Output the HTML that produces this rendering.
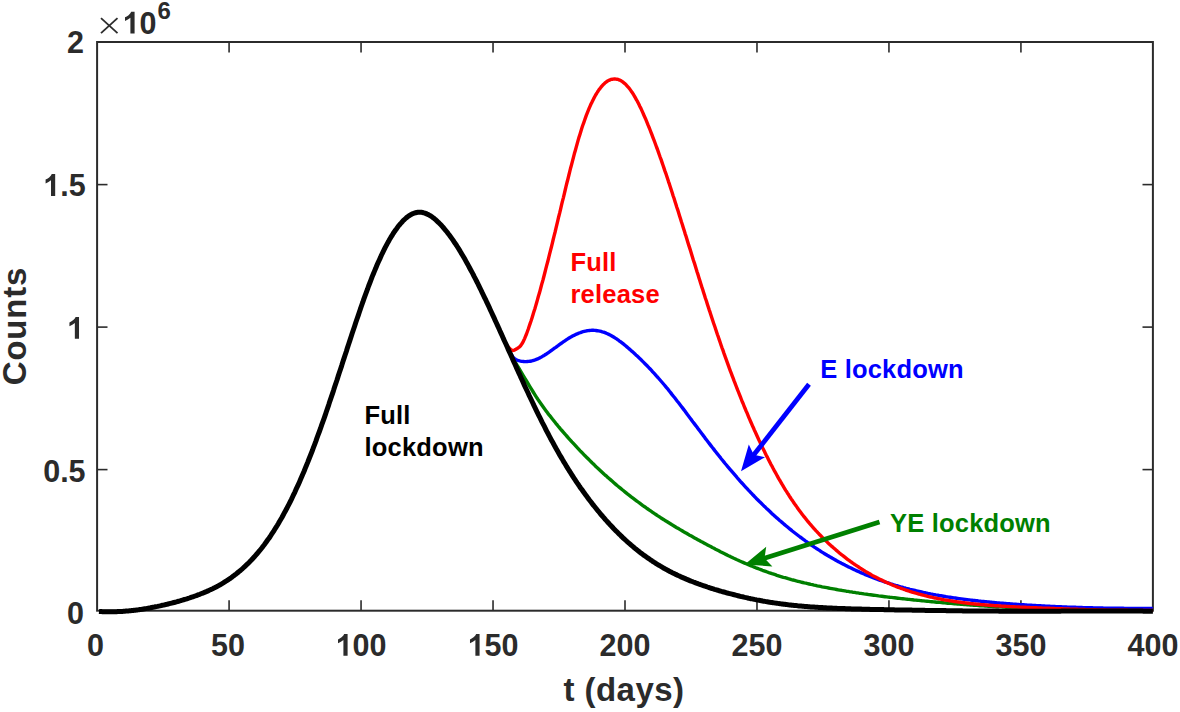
<!DOCTYPE html>
<html><head><meta charset="utf-8"><title>Counts vs t (days)</title>
<style>html,body{margin:0;padding:0;background:#fff;overflow:hidden}svg{display:block}text{font-family:"Liberation Sans",sans-serif;font-weight:bold}</style></head><body>
<svg width="1180" height="712" viewBox="0 0 1180 712">
<rect width="1180" height="712" fill="#fff"/>
<g stroke="#2b2b2b" fill="none">
<rect x="97.1" y="42.0" width="1055.80" height="568.70" stroke-width="2"/>
<line x1="229.08" y1="610.7" x2="229.08" y2="600.3000000000001" stroke-width="1.6"/>
<line x1="229.08" y1="42.0" x2="229.08" y2="52.4" stroke-width="1.6"/>
<line x1="361.05" y1="610.7" x2="361.05" y2="600.3000000000001" stroke-width="1.6"/>
<line x1="361.05" y1="42.0" x2="361.05" y2="52.4" stroke-width="1.6"/>
<line x1="493.03" y1="610.7" x2="493.03" y2="600.3000000000001" stroke-width="1.6"/>
<line x1="493.03" y1="42.0" x2="493.03" y2="52.4" stroke-width="1.6"/>
<line x1="625.00" y1="610.7" x2="625.00" y2="600.3000000000001" stroke-width="1.6"/>
<line x1="625.00" y1="42.0" x2="625.00" y2="52.4" stroke-width="1.6"/>
<line x1="756.98" y1="610.7" x2="756.98" y2="600.3000000000001" stroke-width="1.6"/>
<line x1="756.98" y1="42.0" x2="756.98" y2="52.4" stroke-width="1.6"/>
<line x1="888.95" y1="610.7" x2="888.95" y2="600.3000000000001" stroke-width="1.6"/>
<line x1="888.95" y1="42.0" x2="888.95" y2="52.4" stroke-width="1.6"/>
<line x1="1020.93" y1="610.7" x2="1020.93" y2="600.3000000000001" stroke-width="1.6"/>
<line x1="1020.93" y1="42.0" x2="1020.93" y2="52.4" stroke-width="1.6"/>
<line x1="97.1" y1="184.60" x2="107.5" y2="184.60" stroke-width="1.6"/>
<line x1="1152.9" y1="184.60" x2="1142.5" y2="184.60" stroke-width="1.6"/>
<line x1="97.1" y1="327.10" x2="107.5" y2="327.10" stroke-width="1.6"/>
<line x1="1152.9" y1="327.10" x2="1142.5" y2="327.10" stroke-width="1.6"/>
<line x1="97.1" y1="469.60" x2="107.5" y2="469.60" stroke-width="1.6"/>
<line x1="1152.9" y1="469.60" x2="1142.5" y2="469.60" stroke-width="1.6"/>
</g>
<g fill="none" stroke-linejoin="round" stroke-linecap="butt">
<path d="M509.0 350.0 L510.6 353.6 L512.2 356.9 L513.8 359.9 L515.5 362.7 L517.1 365.4 L518.7 368.0 L520.3 370.6 L521.9 373.3 L523.5 376.0 L525.1 378.7 L526.8 381.4 L528.4 384.1 L530.0 386.8 L531.6 389.4 L533.2 392.0 L534.8 394.6 L536.4 397.1 L538.0 399.5 L539.7 401.9 L541.3 404.2 L542.9 406.5 L544.5 408.7 L546.1 410.9 L547.7 413.1 L549.3 415.2 L551.0 417.2 L552.6 419.3 L554.2 421.3 L555.8 423.3 L557.4 425.2 L559.0 427.2 L560.6 429.1 L562.3 431.0 L563.9 432.8 L565.5 434.7 L567.1 436.5 L568.7 438.3 L570.3 440.1 L571.9 441.9 L573.6 443.7 L575.2 445.4 L576.8 447.2 L578.4 448.9 L580.0 450.6 L581.6 452.2 L583.2 453.9 L584.8 455.6 L586.5 457.2 L588.1 458.8 L589.7 460.4 L591.3 462.0 L592.9 463.6 L594.5 465.1 L596.1 466.7 L597.8 468.2 L599.4 469.7 L601.0 471.2 L602.6 472.7 L604.2 474.2 L605.8 475.6 L607.4 477.1 L609.1 478.5 L610.7 479.9 L612.3 481.3 L613.9 482.7 L615.5 484.1 L617.1 485.5 L618.7 486.8 L620.4 488.1 L622.0 489.5 L623.6 490.8 L625.2 492.1 L626.8 493.4 L628.4 494.7 L630.0 495.9 L631.6 497.2 L633.3 498.4 L634.9 499.6 L636.5 500.8 L638.1 502.0 L639.7 503.2 L641.3 504.4 L642.9 505.6 L644.6 506.7 L646.2 507.9 L647.8 509.0 L649.4 510.1 L651.0 511.2 L652.6 512.3 L654.2 513.4 L655.9 514.5 L657.5 515.6 L659.1 516.6 L660.7 517.7 L662.3 518.7 L663.9 519.7 L665.5 520.8 L667.2 521.8 L668.8 522.8 L670.4 523.8 L672.0 524.8 L673.6 525.7 L675.2 526.7 L676.8 527.7 L678.4 528.6 L680.1 529.6 L681.7 530.5 L683.3 531.5 L684.9 532.4 L686.5 533.3 L688.1 534.3 L689.7 535.2 L691.4 536.1 L693.0 537.0 L694.6 537.9 L696.2 538.8 L697.8 539.7 L699.4 540.6 L701.0 541.5 L702.7 542.3 L704.3 543.2 L705.9 544.1 L707.5 544.9 L709.1 545.8 L710.7 546.6 L712.3 547.5 L714.0 548.3 L715.6 549.2 L717.2 550.0 L718.8 550.8 L720.4 551.7 L722.0 552.5 L723.6 553.3 L725.2 554.1 L726.9 554.9 L728.5 555.7 L730.1 556.4 L731.7 557.2 L733.3 558.0 L734.9 558.7 L736.5 559.5 L738.2 560.2 L739.8 561.0 L741.4 561.7 L743.0 562.4 L744.6 563.1 L746.2 563.8 L747.8 564.5 L749.5 565.2 L751.1 565.8 L752.7 566.5 L754.3 567.1 L755.9 567.8 L757.5 568.4 L759.1 569.0 L760.8 569.6 L762.4 570.3 L764.0 570.8 L765.6 571.4 L767.2 572.0 L768.8 572.6 L770.4 573.1 L772.0 573.7 L773.7 574.2 L775.3 574.7 L776.9 575.3 L778.5 575.8 L780.1 576.3 L781.7 576.8 L783.3 577.3 L785.0 577.7 L786.6 578.2 L788.2 578.7 L789.8 579.1 L791.4 579.6 L793.0 580.0 L794.6 580.4 L796.3 580.9 L797.9 581.3 L799.5 581.7 L801.1 582.1 L802.7 582.5 L804.3 582.9 L805.9 583.2 L807.6 583.6 L809.2 584.0 L810.8 584.4 L812.4 584.7 L814.0 585.1 L815.6 585.4 L817.2 585.8 L818.8 586.1 L820.5 586.4 L822.1 586.8 L823.7 587.1 L825.3 587.4 L826.9 587.7 L828.5 588.0 L830.1 588.3 L831.8 588.6 L833.4 588.9 L835.0 589.2 L836.6 589.5 L838.2 589.8 L839.8 590.1 L841.4 590.3 L843.1 590.6 L844.7 590.9 L846.3 591.2 L847.9 591.4 L849.5 591.7 L851.1 591.9 L852.7 592.2 L854.3 592.4 L856.0 592.7 L857.6 592.9 L859.2 593.2 L860.8 593.4 L862.4 593.6 L864.0 593.9 L865.6 594.1 L867.3 594.3 L868.9 594.6 L870.5 594.8 L872.1 595.0 L873.7 595.2 L875.3 595.4 L876.9 595.6 L878.6 595.9 L880.2 596.1 L881.8 596.3 L883.4 596.5 L885.0 596.7 L886.6 596.9 L888.2 597.1 L889.9 597.3 L891.5 597.4 L893.1 597.6 L894.7 597.8 L896.3 598.0 L897.9 598.2 L899.5 598.4 L901.1 598.6 L902.8 598.7 L904.4 598.9 L906.0 599.1 L907.6 599.3 L909.2 599.4 L910.8 599.6 L912.4 599.8 L914.1 600.0 L915.7 600.1 L917.3 600.3 L918.9 600.4 L920.5 600.6 L922.1 600.8 L923.7 600.9 L925.4 601.1 L927.0 601.2 L928.6 601.4 L930.2 601.6 L931.8 601.7 L933.4 601.9 L935.0 602.0 L936.7 602.2 L938.3 602.3 L939.9 602.4 L941.5 602.6 L943.1 602.7 L944.7 602.9 L946.3 603.0 L947.9 603.2 L949.6 603.3 L951.2 603.4 L952.8 603.6 L954.4 603.7 L956.0 603.8 L957.6 604.0 L959.2 604.1 L960.9 604.2 L962.5 604.3 L964.1 604.5 L965.7 604.6 L967.3 604.7 L968.9 604.8 L970.5 605.0 L972.2 605.1 L973.8 605.2 L975.4 605.3 L977.0 605.4 L978.6 605.5 L980.2 605.7 L981.8 605.8 L983.5 605.9 L985.1 606.0 L986.7 606.1 L988.3 606.2 L989.9 606.3 L991.5 606.4 L993.1 606.5 L994.7 606.6 L996.4 606.7 L998.0 606.8 L999.6 606.9 L1001.2 606.9 L1002.8 607.0 L1004.4 607.1 L1006.0 607.2 L1007.7 607.3 L1009.3 607.4 L1010.9 607.4 L1012.5 607.5 L1014.1 607.6 L1015.7 607.7 L1017.3 607.7 L1019.0 607.8 L1020.6 607.9 L1022.2 608.0 L1023.8 608.0 L1025.4 608.1 L1027.0 608.1 L1028.6 608.2 L1030.3 608.3 L1031.9 608.3 L1033.5 608.4 L1035.1 608.4 L1036.7 608.5 L1038.3 608.5 L1039.9 608.6 L1041.5 608.6 L1043.2 608.7 L1044.8 608.7 L1046.4 608.8 L1048.0 608.8 L1049.6 608.9 L1051.2 608.9 L1052.8 609.0 L1054.5 609.0 L1056.1 609.0 L1057.7 609.1 L1059.3 609.1 L1060.9 609.1 L1062.5 609.2 L1064.1 609.2 L1065.8 609.2 L1067.4 609.3 L1069.0 609.3 L1070.6 609.3 L1072.2 609.4 L1073.8 609.4 L1075.4 609.4 L1077.1 609.4 L1078.7 609.5 L1080.3 609.5 L1081.9 609.5 L1083.5 609.5 L1085.1 609.6 L1086.7 609.6 L1088.3 609.6 L1090.0 609.6 L1091.6 609.6 L1093.2 609.7 L1094.8 609.7 L1096.4 609.7 L1098.0 609.7 L1099.6 609.7 L1101.3 609.8 L1102.9 609.8 L1104.5 609.8 L1106.1 609.8 L1107.7 609.8 L1109.3 609.9 L1110.9 609.9 L1112.6 609.9 L1114.2 609.9 L1115.8 609.9 L1117.4 609.9 L1119.0 610.0 L1120.6 610.0 L1122.2 610.0 L1123.9 610.0 L1125.5 610.0 L1127.1 610.1 L1128.7 610.1 L1130.3 610.1 L1131.9 610.1 L1133.5 610.1 L1135.1 610.2 L1136.8 610.2 L1138.4 610.2 L1140.0 610.2 L1141.6 610.2 L1143.2 610.3 L1144.8 610.3 L1146.4 610.3 L1148.1 610.3 L1149.7 610.4 L1151.3 610.4 L1152.9 610.4" stroke="#008000" stroke-width="3.4"/>
<path d="M508.0 346.8 L509.3 350.2 L510.6 353.2 L511.9 355.6 L513.2 357.4 L514.5 358.6 L515.8 359.5 L517.0 360.1 L518.3 360.5 L519.6 360.9 L520.9 361.2 L522.2 361.4 L523.5 361.5 L524.8 361.6 L526.1 361.6 L527.4 361.5 L528.7 361.4 L530.0 361.3 L531.3 361.0 L532.6 360.7 L533.8 360.3 L535.1 359.9 L536.4 359.4 L537.7 358.9 L539.0 358.2 L540.3 357.6 L541.6 356.9 L542.9 356.1 L544.2 355.4 L545.5 354.5 L546.8 353.7 L548.1 352.8 L549.4 351.9 L550.6 351.0 L551.9 350.1 L553.2 349.2 L554.5 348.2 L555.8 347.3 L557.1 346.3 L558.4 345.4 L559.7 344.4 L561.0 343.5 L562.3 342.6 L563.6 341.7 L564.9 340.8 L566.2 339.9 L567.4 339.1 L568.7 338.3 L570.0 337.5 L571.3 336.8 L572.6 336.0 L573.9 335.4 L575.2 334.7 L576.5 334.1 L577.8 333.6 L579.1 333.0 L580.4 332.6 L581.7 332.1 L583.0 331.7 L584.3 331.4 L585.5 331.1 L586.8 330.8 L588.1 330.6 L589.4 330.5 L590.7 330.4 L592.0 330.3 L593.3 330.3 L594.6 330.4 L595.9 330.5 L597.2 330.7 L598.5 330.9 L599.8 331.1 L601.1 331.4 L602.3 331.8 L603.6 332.2 L604.9 332.7 L606.2 333.2 L607.5 333.8 L608.8 334.4 L610.1 335.0 L611.4 335.7 L612.7 336.5 L614.0 337.3 L615.3 338.1 L616.6 338.9 L617.9 339.8 L619.1 340.8 L620.4 341.7 L621.7 342.7 L623.0 343.7 L624.3 344.7 L625.6 345.8 L626.9 346.9 L628.2 348.0 L629.5 349.1 L630.8 350.2 L632.1 351.4 L633.4 352.5 L634.7 353.7 L635.9 354.9 L637.2 356.1 L638.5 357.3 L639.8 358.6 L641.1 359.8 L642.4 361.1 L643.7 362.4 L645.0 363.7 L646.3 365.0 L647.6 366.3 L648.9 367.7 L650.2 369.0 L651.5 370.4 L652.7 371.8 L654.0 373.2 L655.3 374.6 L656.6 376.1 L657.9 377.5 L659.2 379.0 L660.5 380.5 L661.8 382.0 L663.1 383.5 L664.4 385.0 L665.7 386.6 L667.0 388.2 L668.3 389.7 L669.5 391.3 L670.8 392.9 L672.1 394.6 L673.4 396.2 L674.7 397.8 L676.0 399.5 L677.3 401.2 L678.6 402.8 L679.9 404.5 L681.2 406.2 L682.5 407.9 L683.8 409.6 L685.1 411.3 L686.3 413.0 L687.6 414.8 L688.9 416.5 L690.2 418.2 L691.5 419.9 L692.8 421.7 L694.1 423.4 L695.4 425.1 L696.7 426.8 L698.0 428.6 L699.3 430.3 L700.6 432.0 L701.9 433.7 L703.2 435.4 L704.4 437.1 L705.7 438.9 L707.0 440.5 L708.3 442.2 L709.6 443.9 L710.9 445.6 L712.2 447.3 L713.5 448.9 L714.8 450.6 L716.1 452.2 L717.4 453.9 L718.7 455.5 L720.0 457.1 L721.2 458.7 L722.5 460.3 L723.8 461.9 L725.1 463.5 L726.4 465.0 L727.7 466.6 L729.0 468.1 L730.3 469.7 L731.6 471.2 L732.9 472.7 L734.2 474.2 L735.5 475.7 L736.8 477.2 L738.0 478.7 L739.3 480.1 L740.6 481.6 L741.9 483.0 L743.2 484.4 L744.5 485.9 L745.8 487.3 L747.1 488.7 L748.4 490.1 L749.7 491.4 L751.0 492.8 L752.3 494.2 L753.6 495.5 L754.8 496.8 L756.1 498.2 L757.4 499.5 L758.7 500.8 L760.0 502.1 L761.3 503.3 L762.6 504.6 L763.9 505.9 L765.2 507.1 L766.5 508.4 L767.8 509.6 L769.1 510.8 L770.4 512.0 L771.6 513.2 L772.9 514.4 L774.2 515.6 L775.5 516.7 L776.8 517.9 L778.1 519.0 L779.4 520.2 L780.7 521.3 L782.0 522.4 L783.3 523.5 L784.6 524.6 L785.9 525.7 L787.2 526.8 L788.4 527.8 L789.7 528.9 L791.0 529.9 L792.3 531.0 L793.6 532.0 L794.9 533.0 L796.2 534.0 L797.5 535.0 L798.8 536.0 L800.1 537.0 L801.4 537.9 L802.7 538.9 L804.0 539.8 L805.2 540.8 L806.5 541.7 L807.8 542.6 L809.1 543.5 L810.4 544.4 L811.7 545.3 L813.0 546.2 L814.3 547.1 L815.6 547.9 L816.9 548.8 L818.2 549.6 L819.5 550.4 L820.8 551.3 L822.0 552.1 L823.3 552.9 L824.6 553.7 L825.9 554.5 L827.2 555.3 L828.5 556.0 L829.8 556.8 L831.1 557.5 L832.4 558.3 L833.7 559.0 L835.0 559.7 L836.3 560.5 L837.6 561.2 L838.9 561.9 L840.1 562.6 L841.4 563.3 L842.7 563.9 L844.0 564.6 L845.3 565.3 L846.6 565.9 L847.9 566.6 L849.2 567.2 L850.5 567.8 L851.8 568.4 L853.1 569.1 L854.4 569.7 L855.7 570.3 L856.9 570.9 L858.2 571.4 L859.5 572.0 L860.8 572.6 L862.1 573.2 L863.4 573.7 L864.7 574.3 L866.0 574.8 L867.3 575.3 L868.6 575.9 L869.9 576.4 L871.2 576.9 L872.5 577.4 L873.7 577.9 L875.0 578.4 L876.3 578.9 L877.6 579.3 L878.9 579.8 L880.2 580.3 L881.5 580.7 L882.8 581.2 L884.1 581.6 L885.4 582.1 L886.7 582.5 L888.0 582.9 L889.3 583.3 L890.5 583.8 L891.8 584.2 L893.1 584.6 L894.4 585.0 L895.7 585.4 L897.0 585.7 L898.3 586.1 L899.6 586.5 L900.9 586.9 L902.2 587.2 L903.5 587.6 L904.8 587.9 L906.1 588.3 L907.3 588.6 L908.6 588.9 L909.9 589.3 L911.2 589.6 L912.5 589.9 L913.8 590.2 L915.1 590.5 L916.4 590.8 L917.7 591.1 L919.0 591.4 L920.3 591.7 L921.6 592.0 L922.9 592.3 L924.1 592.6 L925.4 592.8 L926.7 593.1 L928.0 593.4 L929.3 593.6 L930.6 593.9 L931.9 594.1 L933.2 594.4 L934.5 594.6 L935.8 594.9 L937.1 595.1 L938.4 595.3 L939.7 595.6 L940.9 595.8 L942.2 596.0 L943.5 596.2 L944.8 596.4 L946.1 596.7 L947.4 596.9 L948.7 597.1 L950.0 597.3 L951.3 597.5 L952.6 597.7 L953.9 597.9 L955.2 598.0 L956.5 598.2 L957.7 598.4 L959.0 598.6 L960.3 598.8 L961.6 598.9 L962.9 599.1 L964.2 599.3 L965.5 599.4 L966.8 599.6 L968.1 599.8 L969.4 599.9 L970.7 600.1 L972.0 600.2 L973.3 600.4 L974.6 600.5 L975.8 600.7 L977.1 600.8 L978.4 601.0 L979.7 601.1 L981.0 601.3 L982.3 601.4 L983.6 601.5 L984.9 601.7 L986.2 601.8 L987.5 601.9 L988.8 602.0 L990.1 602.2 L991.4 602.3 L992.6 602.4 L993.9 602.5 L995.2 602.6 L996.5 602.8 L997.8 602.9 L999.1 603.0 L1000.4 603.1 L1001.7 603.2 L1003.0 603.3 L1004.3 603.4 L1005.6 603.5 L1006.9 603.6 L1008.2 603.7 L1009.4 603.8 L1010.7 603.9 L1012.0 604.0 L1013.3 604.1 L1014.6 604.2 L1015.9 604.3 L1017.2 604.4 L1018.5 604.5 L1019.8 604.6 L1021.1 604.7 L1022.4 604.7 L1023.7 604.8 L1025.0 604.9 L1026.2 605.0 L1027.5 605.1 L1028.8 605.2 L1030.1 605.2 L1031.4 605.3 L1032.7 605.4 L1034.0 605.5 L1035.3 605.5 L1036.6 605.6 L1037.9 605.7 L1039.2 605.8 L1040.5 605.8 L1041.8 605.9 L1043.0 606.0 L1044.3 606.0 L1045.6 606.1 L1046.9 606.2 L1048.2 606.2 L1049.5 606.3 L1050.8 606.4 L1052.1 606.4 L1053.4 606.5 L1054.7 606.5 L1056.0 606.6 L1057.3 606.6 L1058.6 606.7 L1059.8 606.8 L1061.1 606.8 L1062.4 606.9 L1063.7 606.9 L1065.0 607.0 L1066.3 607.0 L1067.6 607.1 L1068.9 607.1 L1070.2 607.2 L1071.5 607.2 L1072.8 607.3 L1074.1 607.3 L1075.4 607.3 L1076.6 607.4 L1077.9 607.4 L1079.2 607.5 L1080.5 607.5 L1081.8 607.5 L1083.1 607.6 L1084.4 607.6 L1085.7 607.7 L1087.0 607.7 L1088.3 607.7 L1089.6 607.8 L1090.9 607.8 L1092.2 607.8 L1093.5 607.9 L1094.7 607.9 L1096.0 607.9 L1097.3 607.9 L1098.6 608.0 L1099.9 608.0 L1101.2 608.0 L1102.5 608.0 L1103.8 608.1 L1105.1 608.1 L1106.4 608.1 L1107.7 608.1 L1109.0 608.2 L1110.3 608.2 L1111.5 608.2 L1112.8 608.2 L1114.1 608.2 L1115.4 608.3 L1116.7 608.3 L1118.0 608.3 L1119.3 608.3 L1120.6 608.3 L1121.9 608.3 L1123.2 608.3 L1124.5 608.4 L1125.8 608.4 L1127.1 608.4 L1128.3 608.4 L1129.6 608.4 L1130.9 608.4 L1132.2 608.4 L1133.5 608.4 L1134.8 608.4 L1136.1 608.4 L1137.4 608.4 L1138.7 608.4 L1140.0 608.4 L1141.3 608.4 L1142.6 608.4 L1143.9 608.4 L1145.1 608.4 L1146.4 608.4 L1147.7 608.4 L1149.0 608.4 L1150.3 608.4 L1151.6 608.4 L1152.9 608.4" stroke="#0000ff" stroke-width="3.4"/>
<path d="M508.0 346.8 L508.9 347.7 L509.8 348.7 L510.8 349.5 L511.7 350.2 L512.6 350.5 L513.5 350.4 L514.5 350.1 L515.4 349.6 L516.3 349.0 L517.2 348.5 L518.1 347.9 L519.1 347.2 L520.0 346.4 L520.9 345.3 L521.8 344.0 L522.8 342.4 L523.7 340.6 L524.6 338.6 L525.5 336.4 L526.5 334.0 L527.4 331.5 L528.3 329.0 L529.2 326.3 L530.1 323.6 L531.1 320.8 L532.0 318.0 L532.9 315.1 L533.8 312.1 L534.8 309.0 L535.7 305.9 L536.6 302.8 L537.5 299.6 L538.4 296.3 L539.4 293.1 L540.3 289.7 L541.2 286.3 L542.1 282.9 L543.1 279.5 L544.0 276.0 L544.9 272.5 L545.8 268.9 L546.7 265.4 L547.7 261.7 L548.6 258.1 L549.5 254.4 L550.4 250.8 L551.4 247.0 L552.3 243.3 L553.2 239.5 L554.1 235.8 L555.1 232.0 L556.0 228.2 L556.9 224.4 L557.8 220.6 L558.7 216.7 L559.7 212.9 L560.6 209.1 L561.5 205.2 L562.4 201.4 L563.4 197.6 L564.3 193.8 L565.2 190.0 L566.1 186.2 L567.0 182.5 L568.0 178.7 L568.9 175.0 L569.8 171.3 L570.7 167.7 L571.7 164.1 L572.6 160.6 L573.5 157.1 L574.4 153.6 L575.4 150.2 L576.3 146.9 L577.2 143.6 L578.1 140.4 L579.0 137.3 L580.0 134.2 L580.9 131.2 L581.8 128.3 L582.7 125.5 L583.7 122.8 L584.6 120.2 L585.5 117.6 L586.4 115.1 L587.3 112.8 L588.3 110.4 L589.2 108.2 L590.1 106.1 L591.0 104.0 L592.0 102.1 L592.9 100.2 L593.8 98.4 L594.7 96.7 L595.6 95.0 L596.6 93.5 L597.5 92.0 L598.4 90.6 L599.3 89.3 L600.3 88.1 L601.2 86.9 L602.1 85.8 L603.0 84.8 L604.0 83.9 L604.9 83.1 L605.8 82.3 L606.7 81.6 L607.6 81.0 L608.6 80.5 L609.5 80.1 L610.4 79.7 L611.3 79.4 L612.3 79.2 L613.2 79.1 L614.1 79.0 L615.0 79.0 L615.9 79.1 L616.9 79.2 L617.8 79.4 L618.7 79.7 L619.6 80.1 L620.6 80.6 L621.5 81.1 L622.4 81.7 L623.3 82.4 L624.2 83.1 L625.2 83.9 L626.1 84.8 L627.0 85.8 L627.9 86.8 L628.9 87.9 L629.8 89.1 L630.7 90.4 L631.6 91.7 L632.6 93.1 L633.5 94.5 L634.4 96.1 L635.3 97.7 L636.2 99.3 L637.2 101.0 L638.1 102.8 L639.0 104.6 L639.9 106.5 L640.9 108.4 L641.8 110.4 L642.7 112.4 L643.6 114.5 L644.5 116.6 L645.5 118.7 L646.4 120.9 L647.3 123.1 L648.2 125.4 L649.2 127.7 L650.1 130.0 L651.0 132.3 L651.9 134.7 L652.8 137.1 L653.8 139.6 L654.7 142.0 L655.6 144.5 L656.5 147.0 L657.5 149.5 L658.4 152.1 L659.3 154.7 L660.2 157.3 L661.2 159.9 L662.1 162.6 L663.0 165.2 L663.9 167.9 L664.8 170.6 L665.8 173.3 L666.7 176.1 L667.6 178.8 L668.5 181.6 L669.5 184.4 L670.4 187.2 L671.3 190.0 L672.2 192.8 L673.1 195.7 L674.1 198.5 L675.0 201.4 L675.9 204.3 L676.8 207.2 L677.8 210.1 L678.7 213.0 L679.6 215.9 L680.5 218.8 L681.4 221.8 L682.4 224.7 L683.3 227.7 L684.2 230.6 L685.1 233.6 L686.1 236.5 L687.0 239.5 L687.9 242.4 L688.8 245.4 L689.8 248.4 L690.7 251.3 L691.6 254.3 L692.5 257.2 L693.4 260.2 L694.4 263.1 L695.3 266.1 L696.2 269.0 L697.1 272.0 L698.1 274.9 L699.0 277.9 L699.9 280.8 L700.8 283.7 L701.7 286.6 L702.7 289.5 L703.6 292.4 L704.5 295.3 L705.4 298.2 L706.4 301.0 L707.3 303.9 L708.2 306.7 L709.1 309.6 L710.1 312.4 L711.0 315.2 L711.9 318.0 L712.8 320.8 L713.7 323.5 L714.7 326.3 L715.6 329.0 L716.5 331.8 L717.4 334.5 L718.4 337.2 L719.3 339.9 L720.2 342.5 L721.1 345.2 L722.0 347.8 L723.0 350.4 L723.9 353.1 L724.8 355.6 L725.7 358.2 L726.7 360.8 L727.6 363.3 L728.5 365.8 L729.4 368.4 L730.3 370.8 L731.3 373.3 L732.2 375.8 L733.1 378.2 L734.0 380.7 L735.0 383.1 L735.9 385.5 L736.8 387.8 L737.7 390.2 L738.7 392.6 L739.6 394.9 L740.5 397.2 L741.4 399.5 L742.3 401.8 L743.3 404.0 L744.2 406.3 L745.1 408.5 L746.0 410.7 L747.0 412.9 L747.9 415.1 L748.8 417.3 L749.7 419.4 L750.6 421.5 L751.6 423.7 L752.5 425.8 L753.4 427.8 L754.3 429.9 L755.3 432.0 L756.2 434.0 L757.1 436.0 L758.0 438.0 L758.9 440.0 L759.9 442.0 L760.8 443.9 L761.7 445.8 L762.6 447.8 L763.6 449.7 L764.5 451.6 L765.4 453.4 L766.3 455.3 L767.3 457.1 L768.2 458.9 L769.1 460.7 L770.0 462.5 L770.9 464.3 L771.9 466.0 L772.8 467.8 L773.7 469.5 L774.6 471.2 L775.6 472.9 L776.5 474.5 L777.4 476.2 L778.3 477.8 L779.2 479.4 L780.2 481.0 L781.1 482.6 L782.0 484.2 L782.9 485.7 L783.9 487.3 L784.8 488.8 L785.7 490.3 L786.6 491.7 L787.5 493.2 L788.5 494.6 L789.4 496.1 L790.3 497.5 L791.2 498.9 L792.2 500.3 L793.1 501.6 L794.0 503.0 L794.9 504.3 L795.9 505.6 L796.8 506.9 L797.7 508.2 L798.6 509.5 L799.5 510.7 L800.5 512.0 L801.4 513.2 L802.3 514.4 L803.2 515.6 L804.2 516.8 L805.1 517.9 L806.0 519.1 L806.9 520.2 L807.8 521.4 L808.8 522.5 L809.7 523.6 L810.6 524.6 L811.5 525.7 L812.5 526.8 L813.4 527.8 L814.3 528.9 L815.2 529.9 L816.1 530.9 L817.1 531.9 L818.0 532.9 L818.9 533.8 L819.8 534.8 L820.8 535.8 L821.7 536.7 L822.6 537.6 L823.5 538.6 L824.5 539.5 L825.4 540.4 L826.3 541.3 L827.2 542.1 L828.1 543.0 L829.1 543.9 L830.0 544.7 L830.9 545.6 L831.8 546.4 L832.8 547.2 L833.7 548.0 L834.6 548.8 L835.5 549.6 L836.4 550.4 L837.4 551.2 L838.3 552.0 L839.2 552.8 L840.1 553.5 L841.1 554.3 L842.0 555.0 L842.9 555.7 L843.8 556.4 L844.8 557.2 L845.7 557.9 L846.6 558.6 L847.5 559.3 L848.4 560.0 L849.4 560.6 L850.3 561.3 L851.2 562.0 L852.1 562.6 L853.1 563.3 L854.0 563.9 L854.9 564.6 L855.8 565.2 L856.7 565.8 L857.7 566.4 L858.6 567.0 L859.5 567.6 L860.4 568.2 L861.4 568.8 L862.3 569.4 L863.2 570.0 L864.1 570.5 L865.0 571.1 L866.0 571.7 L866.9 572.2 L867.8 572.7 L868.7 573.3 L869.7 573.8 L870.6 574.3 L871.5 574.9 L872.4 575.4 L873.4 575.9 L874.3 576.4 L875.2 576.9 L876.1 577.3 L877.0 577.8 L878.0 578.3 L878.9 578.8 L879.8 579.2 L880.7 579.7 L881.7 580.1 L882.6 580.6 L883.5 581.0 L884.4 581.4 L885.3 581.9 L886.3 582.3 L887.2 582.7 L888.1 583.1 L889.0 583.5 L890.0 583.9 L890.9 584.3 L891.8 584.7 L892.7 585.1 L893.6 585.5 L894.6 585.9 L895.5 586.2 L896.4 586.6 L897.3 587.0 L898.3 587.3 L899.2 587.7 L900.1 588.0 L901.0 588.3 L902.0 588.7 L902.9 589.0 L903.8 589.3 L904.7 589.7 L905.6 590.0 L906.6 590.3 L907.5 590.6 L908.4 590.9 L909.3 591.2 L910.3 591.5 L911.2 591.8 L912.1 592.1 L913.0 592.4 L913.9 592.6 L914.9 592.9 L915.8 593.2 L916.7 593.4 L917.6 593.7 L918.6 594.0 L919.5 594.2 L920.4 594.5 L921.3 594.7 L922.2 595.0 L923.2 595.2 L924.1 595.4 L925.0 595.7 L925.9 595.9 L926.9 596.1 L927.8 596.4 L928.7 596.6 L929.6 596.8 L930.6 597.0 L931.5 597.2 L932.4 597.4 L933.3 597.6 L934.2 597.8 L935.2 598.0 L936.1 598.2 L937.0 598.4 L937.9 598.6 L938.9 598.8 L939.8 598.9 L940.7 599.1 L941.6 599.3 L942.5 599.5 L943.5 599.6 L944.4 599.8 L945.3 600.0 L946.2 600.1 L947.2 600.3 L948.1 600.4 L949.0 600.6 L949.9 600.7 L950.8 600.9 L951.8 601.0 L952.7 601.2 L953.6 601.3 L954.5 601.5 L955.5 601.6 L956.4 601.7 L957.3 601.9 L958.2 602.0 L959.2 602.1 L960.1 602.2 L961.0 602.4 L961.9 602.5 L962.8 602.6 L963.8 602.7 L964.7 602.8 L965.6 602.9 L966.5 603.0 L967.5 603.2 L968.4 603.3 L969.3 603.4 L970.2 603.5 L971.1 603.6 L972.1 603.7 L973.0 603.8 L973.9 603.9 L974.8 604.0 L975.8 604.0 L976.7 604.1 L977.6 604.2 L978.5 604.3 L979.5 604.4 L980.4 604.5 L981.3 604.6 L982.2 604.7 L983.1 604.7 L984.1 604.8 L985.0 604.9 L985.9 605.0 L986.8 605.0 L987.8 605.1 L988.7 605.2 L989.6 605.3 L990.5 605.3 L991.4 605.4 L992.4 605.5 L993.3 605.5 L994.2 605.6 L995.1 605.7 L996.1 605.7 L997.0 605.8 L997.9 605.8 L998.8 605.9 L999.7 606.0 L1000.7 606.0 L1001.6 606.1 L1002.5 606.1 L1003.4 606.2 L1004.4 606.2 L1005.3 606.3 L1006.2 606.4 L1007.1 606.4 L1008.1 606.5 L1009.0 606.5 L1009.9 606.6 L1010.8 606.6 L1011.7 606.7 L1012.7 606.7 L1013.6 606.8 L1014.5 606.8 L1015.4 606.9 L1016.4 606.9 L1017.3 606.9 L1018.2 607.0 L1019.1 607.0 L1020.0 607.1 L1021.0 607.1 L1021.9 607.2 L1022.8 607.2 L1023.7 607.3 L1024.7 607.3 L1025.6 607.3 L1026.5 607.4 L1027.4 607.4 L1028.3 607.5 L1029.3 607.5 L1030.2 607.6 L1031.1 607.6 L1032.0 607.6 L1033.0 607.7 L1033.9 607.7 L1034.8 607.7 L1035.7 607.8 L1036.7 607.8 L1037.6 607.9 L1038.5 607.9 L1039.4 607.9 L1040.3 608.0 L1041.3 608.0 L1042.2 608.1 L1043.1 608.1 L1044.0 608.1 L1045.0 608.2 L1045.9 608.2 L1046.8 608.2 L1047.7 608.3 L1048.6 608.3 L1049.6 608.3 L1050.5 608.4 L1051.4 608.4 L1052.3 608.4 L1053.3 608.5 L1054.2 608.5 L1055.1 608.6 L1056.0 608.6 L1056.9 608.6 L1057.9 608.7 L1058.8 608.7 L1059.7 608.7 L1060.6 608.8 L1061.6 608.8 L1062.5 608.8 L1063.4 608.9 L1064.3 608.9 L1065.3 608.9 L1066.2 609.0 L1067.1 609.0 L1068.0 609.0 L1068.9 609.0 L1069.9 609.1 L1070.8 609.1 L1071.7 609.1 L1072.6 609.2 L1073.6 609.2 L1074.5 609.2 L1075.4 609.3 L1076.3 609.3 L1077.2 609.3 L1078.2 609.4 L1079.1 609.4 L1080.0 609.4 L1080.9 609.4 L1081.9 609.5 L1082.8 609.5 L1083.7 609.5 L1084.6 609.5 L1085.5 609.6 L1086.5 609.6 L1087.4 609.6 L1088.3 609.7 L1089.2 609.7 L1090.2 609.7 L1091.1 609.7 L1092.0 609.7 L1092.9 609.8 L1093.9 609.8 L1094.8 609.8 L1095.7 609.8 L1096.6 609.9 L1097.5 609.9 L1098.5 609.9 L1099.4 609.9 L1100.3 609.9 L1101.2 610.0 L1102.2 610.0 L1103.1 610.0 L1104.0 610.0 L1104.9 610.0 L1105.8 610.1 L1106.8 610.1 L1107.7 610.1 L1108.6 610.1 L1109.5 610.1 L1110.5 610.1 L1111.4 610.2 L1112.3 610.2 L1113.2 610.2 L1114.2 610.2 L1115.1 610.2 L1116.0 610.2 L1116.9 610.2 L1117.8 610.2 L1118.8 610.3 L1119.7 610.3 L1120.6 610.3 L1121.5 610.3 L1122.5 610.3 L1123.4 610.3 L1124.3 610.3 L1125.2 610.3 L1126.1 610.3 L1127.1 610.3 L1128.0 610.4 L1128.9 610.4 L1129.8 610.4 L1130.8 610.4 L1131.7 610.4 L1132.6 610.4 L1133.5 610.4 L1134.4 610.4 L1135.4 610.4 L1136.3 610.4 L1137.2 610.4 L1138.1 610.4 L1139.1 610.4 L1140.0 610.4 L1140.9 610.4 L1141.8 610.4 L1142.8 610.4 L1143.7 610.4 L1144.6 610.4 L1145.5 610.4 L1146.4 610.4 L1147.4 610.4 L1148.3 610.4 L1149.2 610.4 L1150.1 610.4 L1151.1 610.4 L1152.0 610.4 L1152.9 610.4" stroke="#ff0000" stroke-width="3.4"/>
<path d="M99.0 611.5 L100.2 611.6 L101.3 611.6 L102.5 611.7 L103.7 611.7 L104.9 611.7 L106.0 611.8 L107.2 611.8 L108.4 611.8 L109.6 611.8 L110.7 611.8 L111.9 611.8 L113.1 611.7 L114.2 611.7 L115.4 611.7 L116.6 611.7 L117.8 611.6 L118.9 611.6 L120.1 611.5 L121.3 611.5 L122.4 611.4 L123.6 611.3 L124.8 611.2 L126.0 611.1 L127.1 611.1 L128.3 610.9 L129.5 610.8 L130.7 610.7 L131.8 610.6 L133.0 610.5 L134.2 610.3 L135.3 610.2 L136.5 610.0 L137.7 609.9 L138.9 609.7 L140.0 609.5 L141.2 609.4 L142.4 609.2 L143.5 609.0 L144.7 608.8 L145.9 608.6 L147.1 608.4 L148.2 608.2 L149.4 608.0 L150.6 607.8 L151.8 607.5 L152.9 607.3 L154.1 607.1 L155.3 606.8 L156.4 606.6 L157.6 606.4 L158.8 606.1 L160.0 605.9 L161.1 605.6 L162.3 605.3 L163.5 605.1 L164.6 604.8 L165.8 604.5 L167.0 604.3 L168.2 604.0 L169.3 603.7 L170.5 603.4 L171.7 603.1 L172.9 602.8 L174.0 602.5 L175.2 602.2 L176.4 601.9 L177.5 601.5 L178.7 601.2 L179.9 600.9 L181.1 600.5 L182.2 600.2 L183.4 599.8 L184.6 599.5 L185.8 599.1 L186.9 598.8 L188.1 598.4 L189.3 598.0 L190.4 597.6 L191.6 597.2 L192.8 596.8 L194.0 596.4 L195.1 596.0 L196.3 595.6 L197.5 595.1 L198.6 594.7 L199.8 594.3 L201.0 593.8 L202.2 593.3 L203.3 592.9 L204.5 592.4 L205.7 591.9 L206.9 591.4 L208.0 590.9 L209.2 590.3 L210.4 589.8 L211.5 589.2 L212.7 588.7 L213.9 588.1 L215.1 587.5 L216.2 586.9 L217.4 586.3 L218.6 585.6 L219.7 585.0 L220.9 584.3 L222.1 583.6 L223.3 582.9 L224.4 582.2 L225.6 581.4 L226.8 580.7 L228.0 579.9 L229.1 579.1 L230.3 578.3 L231.5 577.5 L232.6 576.6 L233.8 575.7 L235.0 574.8 L236.2 573.9 L237.3 573.0 L238.5 572.0 L239.7 571.1 L240.8 570.1 L242.0 569.1 L243.2 568.0 L244.4 566.9 L245.5 565.8 L246.7 564.7 L247.9 563.6 L249.1 562.4 L250.2 561.2 L251.4 560.0 L252.6 558.7 L253.7 557.5 L254.9 556.2 L256.1 554.8 L257.3 553.5 L258.4 552.1 L259.6 550.7 L260.8 549.2 L262.0 547.7 L263.1 546.2 L264.3 544.7 L265.5 543.1 L266.6 541.5 L267.8 539.8 L269.0 538.2 L270.2 536.5 L271.3 534.7 L272.5 532.9 L273.7 531.1 L274.8 529.3 L276.0 527.4 L277.2 525.5 L278.4 523.5 L279.5 521.5 L280.7 519.5 L281.9 517.5 L283.1 515.3 L284.2 513.2 L285.4 511.0 L286.6 508.8 L287.7 506.6 L288.9 504.3 L290.1 502.0 L291.3 499.6 L292.4 497.2 L293.6 494.7 L294.8 492.3 L295.9 489.7 L297.1 487.2 L298.3 484.6 L299.5 481.9 L300.6 479.3 L301.8 476.5 L303.0 473.8 L304.2 471.0 L305.3 468.2 L306.5 465.3 L307.7 462.4 L308.8 459.5 L310.0 456.5 L311.2 453.5 L312.4 450.5 L313.5 447.4 L314.7 444.3 L315.9 441.1 L317.0 437.9 L318.2 434.7 L319.4 431.5 L320.6 428.2 L321.7 424.9 L322.9 421.6 L324.1 418.3 L325.3 414.9 L326.4 411.5 L327.6 408.1 L328.8 404.6 L329.9 401.1 L331.1 397.7 L332.3 394.1 L333.5 390.6 L334.6 387.1 L335.8 383.5 L337.0 380.0 L338.1 376.4 L339.3 372.8 L340.5 369.2 L341.7 365.6 L342.8 362.0 L344.0 358.4 L345.2 354.8 L346.4 351.2 L347.5 347.6 L348.7 344.0 L349.9 340.4 L351.0 336.9 L352.2 333.3 L353.4 329.8 L354.6 326.2 L355.7 322.7 L356.9 319.2 L358.1 315.8 L359.3 312.3 L360.4 308.9 L361.6 305.5 L362.8 302.2 L363.9 298.9 L365.1 295.6 L366.3 292.4 L367.5 289.2 L368.6 286.0 L369.8 283.0 L371.0 279.9 L372.1 276.9 L373.3 274.0 L374.5 271.1 L375.7 268.3 L376.8 265.5 L378.0 262.8 L379.2 260.2 L380.4 257.6 L381.5 255.0 L382.7 252.6 L383.9 250.2 L385.0 247.9 L386.2 245.6 L387.4 243.4 L388.6 241.3 L389.7 239.2 L390.9 237.2 L392.1 235.3 L393.2 233.5 L394.4 231.7 L395.6 230.0 L396.8 228.4 L397.9 226.8 L399.1 225.3 L400.3 223.9 L401.5 222.6 L402.6 221.3 L403.8 220.1 L405.0 219.0 L406.1 218.0 L407.3 217.0 L408.5 216.2 L409.7 215.4 L410.8 214.7 L412.0 214.1 L413.2 213.5 L414.3 213.1 L415.5 212.8 L416.7 212.5 L417.9 212.3 L419.0 212.2 L420.2 212.2 L421.4 212.3 L422.6 212.5 L423.7 212.8 L424.9 213.1 L426.1 213.6 L427.2 214.1 L428.4 214.6 L429.6 215.3 L430.8 216.0 L431.9 216.8 L433.1 217.7 L434.3 218.6 L435.5 219.6 L436.6 220.7 L437.8 221.8 L439.0 222.9 L440.1 224.1 L441.3 225.3 L442.5 226.6 L443.7 228.0 L444.8 229.4 L446.0 230.8 L447.2 232.3 L448.3 233.8 L449.5 235.3 L450.7 236.9 L451.9 238.6 L453.0 240.2 L454.2 242.0 L455.4 243.7 L456.6 245.5 L457.7 247.3 L458.9 249.2 L460.1 251.1 L461.2 253.1 L462.4 255.0 L463.6 257.0 L464.8 259.1 L465.9 261.1 L467.1 263.2 L468.3 265.4 L469.4 267.5 L470.6 269.7 L471.8 271.9 L473.0 274.1 L474.1 276.4 L475.3 278.7 L476.5 281.0 L477.7 283.3 L478.8 285.7 L480.0 288.1 L481.2 290.5 L482.3 292.9 L483.5 295.3 L484.7 297.8 L485.9 300.2 L487.0 302.7 L488.2 305.2 L489.4 307.7 L490.5 310.2 L491.7 312.8 L492.9 315.3 L494.1 317.9 L495.2 320.4 L496.4 323.0 L497.6 325.6 L498.8 328.2 L499.9 330.8 L501.1 333.4 L502.3 336.0 L503.4 338.6 L504.6 341.2 L505.8 343.8 L507.0 346.4 L508.1 349.1 L509.3 351.7 L510.5 354.3 L511.7 356.9 L512.8 359.5 L514.0 362.2 L515.2 364.8 L516.3 367.4 L517.5 370.0 L518.7 372.6 L519.9 375.1 L521.0 377.7 L522.2 380.3 L523.4 382.9 L524.5 385.4 L525.7 388.0 L526.9 390.5 L528.1 393.0 L529.2 395.5 L530.4 398.0 L531.6 400.5 L532.8 403.0 L533.9 405.4 L535.1 407.8 L536.3 410.3 L537.4 412.7 L538.6 415.1 L539.8 417.4 L541.0 419.8 L542.1 422.1 L543.3 424.4 L544.5 426.7 L545.6 429.0 L546.8 431.3 L548.0 433.5 L549.2 435.8 L550.3 438.0 L551.5 440.2 L552.7 442.3 L553.9 444.5 L555.0 446.6 L556.2 448.7 L557.4 450.8 L558.5 452.8 L559.7 454.9 L560.9 456.9 L562.1 458.9 L563.2 460.9 L564.4 462.8 L565.6 464.8 L566.7 466.7 L567.9 468.6 L569.1 470.5 L570.3 472.3 L571.4 474.2 L572.6 476.0 L573.8 477.8 L575.0 479.6 L576.1 481.3 L577.3 483.1 L578.5 484.8 L579.6 486.5 L580.8 488.2 L582.0 489.8 L583.2 491.5 L584.3 493.1 L585.5 494.7 L586.7 496.3 L587.9 497.9 L589.0 499.5 L590.2 501.0 L591.4 502.5 L592.5 504.1 L593.7 505.5 L594.9 507.0 L596.1 508.5 L597.2 509.9 L598.4 511.3 L599.6 512.8 L600.7 514.2 L601.9 515.5 L603.1 516.9 L604.3 518.2 L605.4 519.6 L606.6 520.9 L607.8 522.2 L609.0 523.5 L610.1 524.8 L611.3 526.0 L612.5 527.3 L613.6 528.5 L614.8 529.7 L616.0 530.9 L617.2 532.1 L618.3 533.2 L619.5 534.4 L620.7 535.5 L621.8 536.7 L623.0 537.8 L624.2 538.9 L625.4 540.0 L626.5 541.0 L627.7 542.1 L628.9 543.1 L630.1 544.1 L631.2 545.1 L632.4 546.1 L633.6 547.1 L634.7 548.1 L635.9 549.1 L637.1 550.0 L638.3 550.9 L639.4 551.9 L640.6 552.8 L641.8 553.6 L642.9 554.5 L644.1 555.4 L645.3 556.2 L646.5 557.1 L647.6 557.9 L648.8 558.7 L650.0 559.5 L651.2 560.3 L652.3 561.1 L653.5 561.9 L654.7 562.6 L655.8 563.4 L657.0 564.1 L658.2 564.8 L659.4 565.5 L660.5 566.2 L661.7 566.9 L662.9 567.6 L664.0 568.3 L665.2 568.9 L666.4 569.6 L667.6 570.2 L668.7 570.8 L669.9 571.5 L671.1 572.1 L672.3 572.7 L673.4 573.2 L674.6 573.8 L675.8 574.4 L676.9 574.9 L678.1 575.5 L679.3 576.0 L680.5 576.6 L681.6 577.1 L682.8 577.6 L684.0 578.1 L685.2 578.6 L686.3 579.1 L687.5 579.6 L688.7 580.1 L689.8 580.6 L691.0 581.1 L692.2 581.5 L693.4 582.0 L694.5 582.4 L695.7 582.9 L696.9 583.3 L698.0 583.7 L699.2 584.2 L700.4 584.6 L701.6 585.0 L702.7 585.4 L703.9 585.8 L705.1 586.2 L706.3 586.6 L707.4 587.0 L708.6 587.4 L709.8 587.8 L710.9 588.2 L712.1 588.5 L713.3 588.9 L714.5 589.3 L715.6 589.6 L716.8 590.0 L718.0 590.3 L719.1 590.7 L720.3 591.0 L721.5 591.4 L722.7 591.7 L723.8 592.0 L725.0 592.3 L726.2 592.7 L727.4 593.0 L728.5 593.3 L729.7 593.6 L730.9 593.9 L732.0 594.2 L733.2 594.5 L734.4 594.8 L735.6 595.1 L736.7 595.4 L737.9 595.7 L739.1 596.0 L740.2 596.3 L741.4 596.6 L742.6 596.8 L743.8 597.1 L744.9 597.4 L746.1 597.6 L747.3 597.9 L748.5 598.2 L749.6 598.4 L750.8 598.7 L752.0 598.9 L753.1 599.1 L754.3 599.4 L755.5 599.6 L756.7 599.9 L757.8 600.1 L759.0 600.3 L760.2 600.5 L761.4 600.7 L762.5 601.0 L763.7 601.2 L764.9 601.4 L766.0 601.6 L767.2 601.8 L768.4 602.0 L769.6 602.2 L770.7 602.4 L771.9 602.5 L773.1 602.7 L774.2 602.9 L775.4 603.1 L776.6 603.2 L777.8 603.4 L778.9 603.6 L780.1 603.7 L781.3 603.9 L782.5 604.0 L783.6 604.2 L784.8 604.3 L786.0 604.5 L787.1 604.6 L788.3 604.8 L789.5 604.9 L790.7 605.0 L791.8 605.2 L793.0 605.3 L794.2 605.4 L795.3 605.5 L796.5 605.6 L797.7 605.8 L798.9 605.9 L800.0 606.0 L801.2 606.1 L802.4 606.2 L803.6 606.3 L804.7 606.4 L805.9 606.5 L807.1 606.6 L808.2 606.7 L809.4 606.8 L810.6 606.9 L811.8 606.9 L812.9 607.0 L814.1 607.1 L815.3 607.2 L816.4 607.3 L817.6 607.3 L818.8 607.4 L820.0 607.5 L821.1 607.6 L822.3 607.6 L823.5 607.7 L824.7 607.8 L825.8 607.8 L827.0 607.9 L828.2 607.9 L829.3 608.0 L830.5 608.1 L831.7 608.1 L832.9 608.2 L834.0 608.2 L835.2 608.3 L836.4 608.3 L837.6 608.4 L838.7 608.4 L839.9 608.5 L841.1 608.5 L842.2 608.5 L843.4 608.6 L844.6 608.6 L845.8 608.7 L846.9 608.7 L848.1 608.8 L849.3 608.8 L850.4 608.8 L851.6 608.9 L852.8 608.9 L854.0 608.9 L855.1 609.0 L856.3 609.0 L857.5 609.0 L858.7 609.1 L859.8 609.1 L861.0 609.1 L862.2 609.2 L863.3 609.2 L864.5 609.2 L865.7 609.3 L866.9 609.3 L868.0 609.3 L869.2 609.3 L870.4 609.4 L871.5 609.4 L872.7 609.4 L873.9 609.4 L875.1 609.5 L876.2 609.5 L877.4 609.5 L878.6 609.5 L879.8 609.6 L880.9 609.6 L882.1 609.6 L883.3 609.6 L884.4 609.7 L885.6 609.7 L886.8 609.7 L888.0 609.7 L889.1 609.8 L890.3 609.8 L891.5 609.8 L892.6 609.8 L893.8 609.8 L895.0 609.9 L896.2 609.9 L897.3 609.9 L898.5 609.9 L899.7 609.9 L900.9 610.0 L902.0 610.0 L903.2 610.0 L904.4 610.0 L905.5 610.0 L906.7 610.1 L907.9 610.1 L909.1 610.1 L910.2 610.1 L911.4 610.1 L912.6 610.2 L913.8 610.2 L914.9 610.2 L916.1 610.2 L917.3 610.2 L918.4 610.2 L919.6 610.3 L920.8 610.3 L922.0 610.3 L923.1 610.3 L924.3 610.3 L925.5 610.4 L926.6 610.4 L927.8 610.4 L929.0 610.4 L930.2 610.4 L931.3 610.4 L932.5 610.5 L933.7 610.5 L934.9 610.5 L936.0 610.5 L937.2 610.5 L938.4 610.5 L939.5 610.6 L940.7 610.6 L941.9 610.6 L943.1 610.6 L944.2 610.6 L945.4 610.6 L946.6 610.7 L947.7 610.7 L948.9 610.7 L950.1 610.7 L951.3 610.7 L952.4 610.7 L953.6 610.7 L954.8 610.8 L956.0 610.8 L957.1 610.8 L958.3 610.8 L959.5 610.8 L960.6 610.8 L961.8 610.8 L963.0 610.9 L964.2 610.9 L965.3 610.9 L966.5 610.9 L967.7 610.9 L968.8 610.9 L970.0 610.9 L971.2 610.9 L972.4 611.0 L973.5 611.0 L974.7 611.0 L975.9 611.0 L977.1 611.0 L978.2 611.0 L979.4 611.0 L980.6 611.0 L981.7 611.0 L982.9 611.0 L984.1 611.1 L985.3 611.1 L986.4 611.1 L987.6 611.1 L988.8 611.1 L989.9 611.1 L991.1 611.1 L992.3 611.1 L993.5 611.1 L994.6 611.1 L995.8 611.1 L997.0 611.1 L998.2 611.1 L999.3 611.2 L1000.5 611.2 L1001.7 611.2 L1002.8 611.2 L1004.0 611.2 L1005.2 611.2 L1006.4 611.2 L1007.5 611.2 L1008.7 611.2 L1009.9 611.2 L1011.1 611.2 L1012.2 611.2 L1013.4 611.2 L1014.6 611.2 L1015.7 611.2 L1016.9 611.2 L1018.1 611.2 L1019.3 611.2 L1020.4 611.2 L1021.6 611.2 L1022.8 611.2 L1023.9 611.2 L1025.1 611.2 L1026.3 611.2 L1027.5 611.2 L1028.6 611.2 L1029.8 611.2 L1031.0 611.2 L1032.2 611.2 L1033.3 611.2 L1034.5 611.2 L1035.7 611.2 L1036.8 611.2 L1038.0 611.2 L1039.2 611.2 L1040.4 611.2 L1041.5 611.2 L1042.7 611.2 L1043.9 611.2 L1045.0 611.2 L1046.2 611.2 L1047.4 611.2 L1048.6 611.2 L1049.7 611.2 L1050.9 611.2 L1052.1 611.2 L1053.3 611.2 L1054.4 611.2 L1055.6 611.2 L1056.8 611.2 L1057.9 611.2 L1059.1 611.2 L1060.3 611.2 L1061.5 611.1 L1062.6 611.1 L1063.8 611.1 L1065.0 611.1 L1066.1 611.1 L1067.3 611.1 L1068.5 611.1 L1069.7 611.1 L1070.8 611.1 L1072.0 611.1 L1073.2 611.1 L1074.4 611.1 L1075.5 611.1 L1076.7 611.1 L1077.9 611.1 L1079.0 611.0 L1080.2 611.0 L1081.4 611.0 L1082.6 611.0 L1083.7 611.0 L1084.9 611.0 L1086.1 611.0 L1087.3 611.0 L1088.4 611.0 L1089.6 611.0 L1090.8 611.0 L1091.9 611.0 L1093.1 611.0 L1094.3 611.0 L1095.5 611.0 L1096.6 611.0 L1097.8 611.0 L1099.0 611.0 L1100.1 610.9 L1101.3 610.9 L1102.5 610.9 L1103.7 610.9 L1104.8 610.9 L1106.0 610.9 L1107.2 610.9 L1108.4 610.9 L1109.5 610.9 L1110.7 610.9 L1111.9 610.9 L1113.0 610.9 L1114.2 610.9 L1115.4 610.9 L1116.6 610.9 L1117.7 610.9 L1118.9 610.9 L1120.1 611.0 L1121.2 611.0 L1122.4 611.0 L1123.6 611.0 L1124.8 611.0 L1125.9 611.0 L1127.1 611.0 L1128.3 611.0 L1129.5 611.0 L1130.6 611.0 L1131.8 611.0 L1133.0 611.0 L1134.1 611.0 L1135.3 611.1 L1136.5 611.1 L1137.7 611.1 L1138.8 611.1 L1140.0 611.1 L1141.2 611.1 L1142.3 611.1 L1143.5 611.2 L1144.7 611.2 L1145.9 611.2 L1147.0 611.2 L1148.2 611.2 L1149.4 611.2 L1150.6 611.3 L1151.7 611.3 L1152.9 611.3" stroke="#000" stroke-width="5.0"/>
</g>
<g fill="#2b2b2b">
<text x="87.02" y="655.80" font-size="30.5px" letter-spacing="0.0">0</text>
<text x="211.12" y="655.80" font-size="30.5px" letter-spacing="0.0">50</text>
<path transform="translate(335.61,655.80) scale(0.01489,-0.01489)" d="M805 0H524V1059Q370 915 161 846V1101Q271 1137 400 1237.5Q529 1338 577 1472H805Z"/><text x="352.57" y="655.80" font-size="30.5px" letter-spacing="0.0">00</text>
<path transform="translate(467.59,655.80) scale(0.01489,-0.01489)" d="M805 0H524V1059Q370 915 161 846V1101Q271 1137 400 1237.5Q529 1338 577 1472H805Z"/><text x="484.55" y="655.80" font-size="30.5px" letter-spacing="0.0">50</text>
<text x="599.56" y="655.80" font-size="30.5px" letter-spacing="0.0">200</text>
<text x="731.54" y="655.80" font-size="30.5px" letter-spacing="0.0">250</text>
<text x="863.51" y="655.80" font-size="30.5px" letter-spacing="0.0">300</text>
<text x="995.49" y="655.80" font-size="30.5px" letter-spacing="0.0">350</text>
<text x="1127.46" y="655.80" font-size="30.5px" letter-spacing="0.0">400</text>
<text x="67.04" y="53.25" font-size="30.5px" letter-spacing="0.0">2</text>
<path transform="translate(43.20,196.00) scale(0.01489,-0.01489)" d="M805 0H524V1059Q370 915 161 846V1101Q271 1137 400 1237.5Q529 1338 577 1472H805Z"/><text x="60.16" y="196.00" font-size="30.5px" letter-spacing="0.0">.5</text>
<path transform="translate(67.04,338.80) scale(0.01489,-0.01489)" d="M805 0H524V1059Q370 915 161 846V1101Q271 1137 400 1237.5Q529 1338 577 1472H805Z"/>
<text x="43.20" y="481.65" font-size="30.5px" letter-spacing="0.0">0.5</text>
<text x="67.04" y="624.20" font-size="30.5px" letter-spacing="0.0">0</text>
</g>
<g stroke="#2b2b2b" stroke-width="1.8" fill="none"><line x1="101" y1="18.2" x2="117.5" y2="33.2"/><line x1="101" y1="33.2" x2="117.5" y2="18.2"/></g>
<g fill="#2b2b2b"><path transform="translate(122.60,33.60) scale(0.01489,-0.01489)" d="M805 0H524V1059Q370 915 161 846V1101Q271 1137 400 1237.5Q529 1338 577 1472H805Z"/><text x="139.56" y="33.60" font-size="30.5px" letter-spacing="0.0">0</text></g>
<text x="157.5" y="19.1" font-size="24px" fill="#2b2b2b">6</text>
<text x="624" y="701.3" font-size="33px" letter-spacing="0.45" fill="#2b2b2b" text-anchor="middle">t (days)</text>
<text transform="translate(26.3,326) rotate(-90)" font-size="33px" letter-spacing="0.8" fill="#2b2b2b" text-anchor="middle">Counts</text>
<g font-size="25.5px" letter-spacing="0.2">
<text x="364.5" y="423.6" fill="#000">Full</text><text x="364.5" y="456.4" fill="#000">lockdown</text>
<text x="570.5" y="270.5" fill="#ff0000">Full</text><text x="570.5" y="302.5" fill="#ff0000">release</text>
<text x="820.2" y="377.6" fill="#0000ff">E lockdown</text>
<text x="890" y="532.3" fill="#008000">YE lockdown</text>
</g>
<line x1="809.0" y1="384.3" x2="753.2" y2="455.6" stroke="#0000ff" stroke-width="4.8"/><polygon points="741.0,471.2 748.8,444.5 753.8,454.8 765.0,457.2" fill="#0000ff"/>
<line x1="879.5" y1="522.0" x2="763.6" y2="558.5" stroke="#008000" stroke-width="4.8"/><polygon points="744.7,564.4 766.2,546.8 764.5,558.2 772.4,566.5" fill="#008000"/>
</svg></body></html>
